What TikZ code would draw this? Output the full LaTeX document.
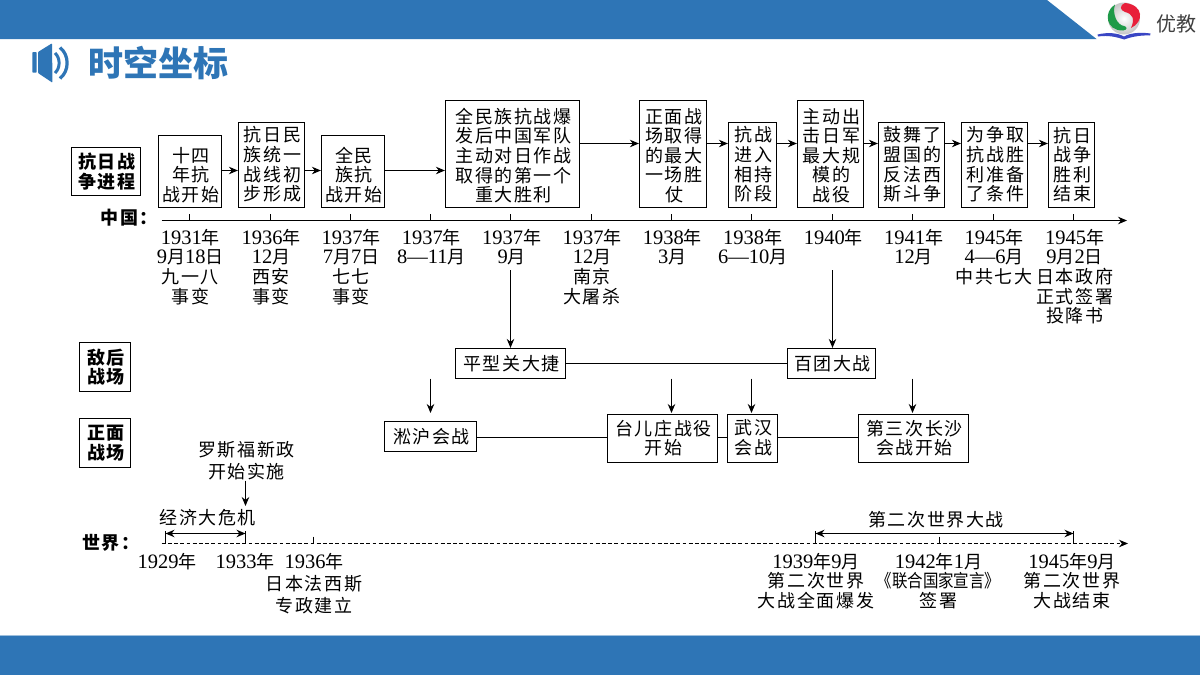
\documentclass[tikz,border=0pt]{standalone}
\usepackage{fontspec}
\usepackage{graphicx}
\usetikzlibrary{arrows.meta}
\setmainfont[LetterSpace=9]{Noto Sans CJK SC}
\newfontfamily\plaincjk{Noto Sans CJK SC}
\newfontfamily\serifdigits{Liberation Serif}
\newcommand{\dg}[1]{{\serifdigits\fontsize{20.5}{19.6}\selectfont #1}}
\newcommand{\fs}{\fontsize{18}{19.6}\selectfont}
\definecolor{band}{HTML}{2E75B6}
\definecolor{bandline}{HTML}{9DBFDD}
\definecolor{bookblue}{HTML}{3A46C4}
\definecolor{logogreen}{HTML}{1E9A48}
\definecolor{logored}{HTML}{E8203A}
\tikzset{
  txt/.style={inner sep=0pt,align=center,font=\fs,text=black},
  lbl/.style={txt,anchor=north,xshift=1pt},
  bx/.style={draw=black,line width=1.2pt,inner sep=0pt,fill=white},
  lnk/.style={draw=black,line width=1.15pt},
  arr/.style={lnk,-{Stealth[length=9pt,width=7.5pt]}},
  dblarr/.style={lnk,{Stealth[length=9pt,width=7.5pt]}-{Stealth[length=9pt,width=7.5pt]}},
}
% name, x1, y1, x2, y2, text centre y, text
\newcommand{\bxn}[7]{%
  \node[bx,minimum width={#4pt-#2pt},minimum height={#5pt-#3pt}] (#1) at ({(#2+#4)/2},{(#3+#5)/2}) {};
  \node[txt,xshift=1pt] (#1t) at ({(#2+#4)/2},#6) {#7};
}
\newcommand{\bxb}[7]{%
  \node[bx,minimum width={#4pt-#2pt},minimum height={#5pt-#3pt}] (#1) at ({(#2+#4)/2},{(#3+#5)/2}) {};
  \node[txt,xshift=1pt,font=\fs\bfseries] (#1t) at ({(#2+#4)/2},#6) {#7};
}
\begin{document}
\begin{tikzpicture}[x=1pt,y=-1pt]
\useasboundingbox (0,0) rectangle (1200,675);
\fill[white] (0,0) rectangle (1200,675);
% bands
\fill[band] (0,0) -- (1047,0) -- (1096.5,39) -- (0,39) -- cycle;
\fill[band] (0,635.5) rectangle (1200,675);
\draw[bandline,line width=.8pt] (0,635.5) -- (1200,635.5);
% speaker
\fill[band,rounded corners=.8pt] (32.3,52) rectangle (36.7,72.7);
\fill[band,rounded corners=.8pt] (38,52) -- (52,43.3) -- (52.5,82.7) -- (38,73) -- cycle;
\draw[band,line width=3pt] (55,53) .. controls (60.5,58) and (60.5,68) .. (55,73);
\draw[band,line width=3.2pt] (60,47.5) .. controls (69.5,55) and (69.5,71) .. (60,78.5);
\node[inner sep=0pt,text=band,font=\plaincjk\bfseries\fontsize{35}{36}\selectfont] (title) at (158.5,63) {时空坐标};
% logo
\shade[inner color=white,outer color=gray!45] (1124,18.5) circle (16);
\fill[logogreen] (1115,4.5) .. controls (1103,12) and (1106,31) .. (1123,30.5) .. controls (1128,30) and (1127,26.5) .. (1124,26) .. controls (1117,25) and (1112,14) .. (1115,4.5) -- cycle;
\fill[logored] (1125,3) .. controls (1119,6) and (1120,10) .. (1125,12) .. controls (1133,14) and (1135,19) .. (1131,28) .. controls (1144,22) and (1144,5) .. (1125,3) -- cycle;
\fill[bookblue] (1097.5,34.5) .. controls (1108,32) and (1118,33) .. (1124,36.5) .. controls (1130,33) and (1140,32) .. (1150.5,33.5) -- (1150,35.5) .. controls (1140,35) and (1131,37) .. (1124,39.5) .. controls (1117,37) and (1108,35) .. (1098,36.5) -- cycle;
\node[inner sep=0pt,text=black!75,font=\plaincjk\fontsize{20}{20}\selectfont] (brand) at (1176,24) {优教};
% side labels
\bxb{lA}{71.5}{147.5}{140.5}{195.5}{171.5}{抗日战\\争进程}
\bxb{lB}{79.5}{342.5}{130.5}{391.5}{367}{敌后\\战场}
\bxb{lC}{79.5}{418.5}{130.5}{467.5}{443}{正面\\战场}
\node[inner sep=0pt,anchor=west,font=\fs\bfseries] (cn) at (100.5,218) {中国：};
\node[inner sep=0pt,anchor=west,font=\fs\bfseries] (wd) at (82,543) {世界：};
% top boxes
\bxn{A}{158.5}{135.5}{221.5}{207.5}{175}{十四\\年抗\\战开始}
\bxn{B}{238.5}{122.5}{304.5}{207.5}{164.5}{抗日民\\族统一\\战线初\\步形成}
\bxn{C}{321.5}{135.5}{384.5}{207.5}{175}{全民\\族抗\\战开始}
\bxn{D}{445.5}{100.5}{579.5}{207.5}{155.5}{全民族抗战爆\\发后中国军队\\主动对日作战\\取得的第一个\\重大胜利}
\bxn{E}{639.5}{100.5}{706.5}{207.5}{155.5}{正面战\\场取得\\的最大\\一场胜\\仗}
\bxn{F}{728.5}{122.5}{776.5}{207.5}{164.5}{抗战\\进入\\相持\\阶段}
\bxn{G}{797.5}{100.5}{863.5}{207.5}{155.5}{主动出\\击日军\\最大规\\模的\\战役}
\bxn{H}{878.5}{122.5}{944.5}{207.5}{164.5}{鼓舞了\\盟国的\\反法西\\斯斗争}
\bxn{I}{961.5}{122.5}{1027.5}{207.5}{164.5}{为争取\\抗战胜\\利准备\\了条件}
\bxn{J}{1048.5}{122.5}{1094.5}{207.5}{164.5}{抗日\\战争\\胜利\\结束}
\coordinate (rowa) at (0,170.5);
\coordinate (rowb) at (0,143.5);
\draw[arr] (A.east|-rowa) -- (B.west|-rowa);
\draw[arr] (B.east|-rowa) -- (C.west|-rowa);
\draw[arr] (C.east|-rowa) -- (D.west|-rowa);
\draw[arr] (D.east|-rowb) -- (E.west|-rowb);
\draw[arr] (E.east|-rowb) -- (F.west|-rowb);
\draw[arr] (F.east|-rowb) -- (G.west|-rowb);
\draw[arr] (G.east|-rowb) -- (H.west|-rowb);
\draw[arr] (H.east|-rowb) -- (I.west|-rowb);
\draw[arr] (I.east|-rowb) -- (J.west|-rowb);
% China axis
\coordinate (cs) at (161.7,220.5);
\coordinate (ce) at (1127,220.5);
\draw[arr] (cs) -- (ce);
\foreach \x in {189.5,270.5,350.5,430.5,510.5,591.5,671.5,751.5,832.5,912.5,993.5,1073.5}
  \draw[lnk,line width=.9pt] (\x,214) -- (\x,220.5);
% dates
\node[lbl] (d1) at (189.3,229) {\dg{1931}年\\\dg{9}月\dg{18}日\\九一八\\事变};
\node[lbl] (d2) at (270,229) {\dg{1936}年\\\dg{12}月\\西安\\事变};
\node[lbl] (d3) at (350,229) {\dg{1937}年\\\dg{7}月\dg{7}日\\七七\\事变};
\node[lbl] (d4) at (430.3,229) {\dg{1937}年\\\dg{8—11}月};
\node[lbl] (d5) at (510.7,229) {\dg{1937}年\\\dg{9}月};
\node[lbl] (d6) at (591,229) {\dg{1937}年\\\dg{12}月\\南京\\大屠杀};
\node[lbl] (d7) at (671.3,229) {\dg{1938}年\\\dg{3}月};
\node[lbl] (d8) at (751.7,229) {\dg{1938}年\\\dg{6—10}月};
\node[lbl] (d9) at (832.3,229) {\dg{1940}年};
\node[lbl] (d10) at (912.7,229) {\dg{1941}年\\\dg{12}月};
\node[lbl] (d11) at (993,229) {\dg{1945}年\\\dg{4—6}月\\中共七大};
\node[lbl] (d12) at (1073.7,229) {\dg{1945}年\\\dg{9}月\dg{2}日\\日本政府\\正式签署\\投降书};
% enemy rear
\bxn{P}{455.5}{348.5}{565.5}{378.5}{363.3}{平型关大捷}
\bxn{Q}{787.5}{348.5}{875.5}{378.5}{363.3}{百团大战}
\draw[lnk] (P) -- (Q);
\coordinate (pa) at (510.5,270);
\coordinate (qa) at (832.5,270);
\draw[arr] (pa) -- (pa|-P.north);
\draw[arr] (qa) -- (qa|-Q.north);
% front
\bxn{S}{384.5}{421.5}{476.5}{451.5}{436.5}{淞沪会战}
\bxn{T}{607.5}{414.5}{717.5}{462.5}{438}{台儿庄战役\\开始}
\bxn{U}{727.5}{414.5}{777.5}{462.5}{438}{武汉\\会战}
\bxn{V}{858.5}{414.5}{968.5}{462.5}{438}{第三次长沙\\会战开始}
\coordinate (rowc) at (0,437.5);
\draw[lnk] (S.east|-rowc) -- (T.west|-rowc);
\draw[lnk] (T.east|-rowc) -- (U.west|-rowc);
\draw[lnk] (U.east|-rowc) -- (V.west|-rowc);
\coordinate (sa) at (430.5,378.5);
\coordinate (ta) at (671.5,378.5);
\coordinate (ua) at (751.5,378.5);
\coordinate (va) at (912.5,378.5);
\draw[arr] (sa) -- (430.5,413);
\draw[arr] (ta) -- (671.5,413);
\draw[arr] (ua) -- (751.5,413);
\draw[arr] (va) -- (912.5,413);
% world
\node[txt,xshift=1pt,text width=120pt,font=\fontsize{18}{22}\selectfont] (w1) at (245.5,460.5) {罗斯福新政\\开始实施};
\coordinate (wa) at (245.5,480.7);
\node[txt,xshift=1pt] (w2) at (206.7,517.7) {经济大危机};
\draw[arr] (wa) -- (245.5,506);
\coordinate (ws) at (161.7,543.5);
\coordinate (we) at (1128,543.5);
\draw[arr,dash pattern=on 3.8pt off 2.4pt] (ws) -- (we);
\coordinate (w29) at (165.5,531);
\coordinate (w33) at (245.5,531);
\coordinate (w36) at (313.5,536.7);
\coordinate (w39) at (815.5,531);
\coordinate (w42) at (939.5,536.7);
\coordinate (w45) at (1073.5,531);
\foreach \c in {w29,w33,w36,w39,w42,w45}
  \draw[lnk,line width=1pt] (\c) -- (\c|-ws);
\draw[dblarr] ([yshift=-2.5pt]w29) -- ([yshift=-2.5pt]w33);
\draw[dblarr] ([yshift=-2.5pt]w39) -- ([yshift=-2.5pt]w45);
\node[txt,xshift=1pt] (w3) at (935,520) {第二次世界大战};
\node[lbl] (y29) at (166,553) {\dg{1929}年};
\node[lbl] (y33) at (244,553) {\dg{1933}年};
\node[lbl,font=\fontsize{18}{22}\selectfont] (y36) at (313,553) {\dg{1936}年\\日本法西斯\\专政建立};
\node[lbl] (y39) at (815,552.8) {\dg{1939}年\dg{9}月\\第二次世界\\大战全面爆发};
\node[lbl] (y42) at (937.5,552.8) {\dg{1942}年\dg{1}月\\\scalebox{.86}[1]{\plaincjk《联合国家宣言》}\\签署};
\node[lbl] (y45) at (1071,552.8) {\dg{1945}年\dg{9}月\\第二次世界\\大战结束};
\end{tikzpicture}
\end{document}
